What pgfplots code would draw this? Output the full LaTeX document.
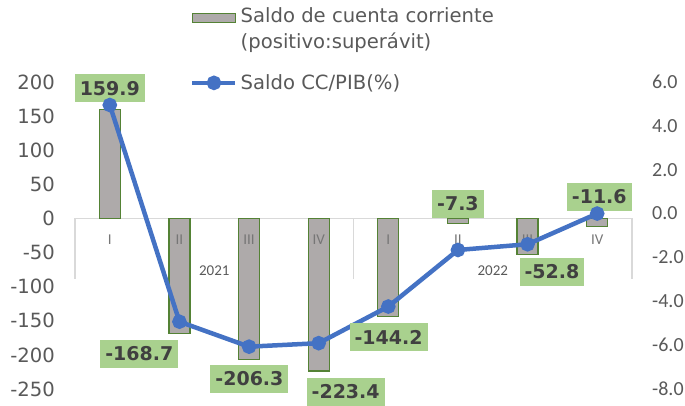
\documentclass[border=0pt]{standalone}
\usepackage{fontspec}
\setmainfont{DejaVu Sans}
\newfontfamily\catfont{Carlito}
\usepackage{pgfplots}
\pgfplotsset{compat=1.18}
\definecolor{barfill}{HTML}{AEAAAA}
\definecolor{bargreen}{HTML}{548235}
\definecolor{lineblue}{HTML}{4472C4}
\definecolor{lblfill}{HTML}{A9D18E}
\definecolor{lbltext}{HTML}{404040}
\definecolor{ticktext}{HTML}{595959}
\definecolor{axgray}{HTML}{D9D9D9}
\definecolor{qgray}{HTML}{767676}
\newcommand{\bigf}{\fontsize{19.6bp}{26bp}\selectfont}
\newcommand{\rightf}{\catfont\fontsize{20bp}{24bp}\selectfont}
\newcommand{\lblf}{\fontsize{19bp}{22bp}\selectfont\bfseries}
\newcommand{\catf}{\catfont\fontsize{15bp}{18bp}\selectfont}
\begin{document}
\begin{tikzpicture}
\useasboundingbox (0,0) rectangle (685bp,406bp);
\pgfplotsset{
  common/.style={
    scale only axis, width=557bp, height=307bp,
    at={(75bp,17bp)}, anchor=south west,
    xmin=-0.5, xmax=7.5, xtick=\empty,
    axis line style={draw=none},
    major tick length=0pt,
    clip=false,
    /pgf/number format/assume math mode=true,
    yticklabel style={text=ticktext, inner sep=0pt},
  }
}
% left axis with bars
\begin{axis}[common,
  ymin=-250, ymax=200,
  ytick={-250,-200,-150,-100,-50,0,50,100,150,200},
  yticklabel style={font=\bigf, anchor=east, xshift=-20bp},
]
\draw[axgray, line width=1.3bp] (axis cs:-0.5,0) -- (axis cs:7.5,0);
\draw[axgray, line width=1.3bp] (axis cs:-0.5,0) -- (axis cs:-0.5,-89);
\draw[axgray, line width=1.3bp] (axis cs:3.5,0) -- (axis cs:3.5,-89);
\draw[axgray, line width=1.3bp] (axis cs:7.5,0) -- (axis cs:7.5,-89);
\addplot[ybar, bar width=21bp, fill=barfill, draw=bargreen, line width=1.3bp]
  coordinates {(0,159.9) (1,-168.7) (2,-206.3) (3,-223.4) (4,-144.2) (5,-7.3) (6,-52.8) (7,-11.6)};
\node[font=\catf, text=qgray] at (axis cs:0,-31) {I};
\node[font=\catf, text=qgray] at (axis cs:1,-31) {II};
\node[font=\catf, text=qgray] at (axis cs:2,-31) {III};
\node[font=\catf, text=qgray] at (axis cs:3,-31) {IV};
\node[font=\catf, text=qgray] at (axis cs:4,-31) {I};
\node[font=\catf, text=qgray] at (axis cs:5,-31) {II};
\node[font=\catf, text=qgray] at (axis cs:6,-31) {III};
\node[font=\catf, text=qgray] at (axis cs:7,-31) {IV};
\node[font=\catf, text=ticktext] at (axis cs:1.5,-76.5) {2021};
\node[font=\catf, text=ticktext] at (axis cs:5.5,-76.5) {2022};
\end{axis}
% right axis with line
\begin{axis}[common,
  ymin=-8, ymax=6,
  ytick={-8,-6,-4,-2,0,2,4,6},
  yticklabel pos=right,
  yticklabel style={font=\rightf, anchor=west, xshift=20bp,
    /pgf/number format/.cd, fixed, fixed zerofill, precision=1},
  legend style={at={(axis description cs:0.2065,1.244)}, anchor=north west,
    draw=none, fill=none, inner sep=0pt, row sep=25bp,
    font=\bigf, text=ticktext,
    nodes={inner xsep=3bp, inner ysep=0bp},
    cells={anchor=west, align=left}},
]
\addlegendimage{legend image code/.code={
  \draw[fill=barfill, draw=bargreen, line width=1.5bp] (0bp,6bp) rectangle (43bp,15bp);}}
\addlegendentry{Saldo de cuenta corriente\\(positivo:superávit)}
\addplot[color=lineblue, line width=4.5bp, mark=*, mark size=5bp,
  mark options={solid, fill=lineblue},
  legend image code/.code={
   \draw[lineblue, line width=4.5bp] (0bp,0bp) -- (43bp,0bp);
   \fill[lineblue] (21.5bp,0bp) circle (5bp);}]
  coordinates {(0,4.95) (1,-4.93) (2,-6.07) (3,-5.91) (4,-4.24) (5,-1.66) (6,-1.40) (7,0.0)};
\addlegendentry{Saldo CC/PIB(\%)}
\tikzset{lbl/.style={fill=lblfill, text=lbltext, font=\lblf,
  inner xsep=5bp, inner ysep=0bp, minimum height=28bp}}
\node[lbl] at (axis cs:0,5.71) {159.9};
\node[lbl] at (axis cs:0.423,-6.40) {-168.7};
\node[lbl] at (axis cs:2.005,-7.53) {-206.3};
\node[lbl] at (axis cs:3.387,-8.12) {-223.4};
\node[lbl] at (axis cs:4.003,-5.65) {-144.2};
\node[lbl] at (axis cs:5.0,0.44) {-7.3};
\node[lbl] at (axis cs:6.35,-2.65) {-52.8};
\node[lbl] at (axis cs:7.03,0.76) {-11.6};
\end{axis}
\end{tikzpicture}
\end{document}
